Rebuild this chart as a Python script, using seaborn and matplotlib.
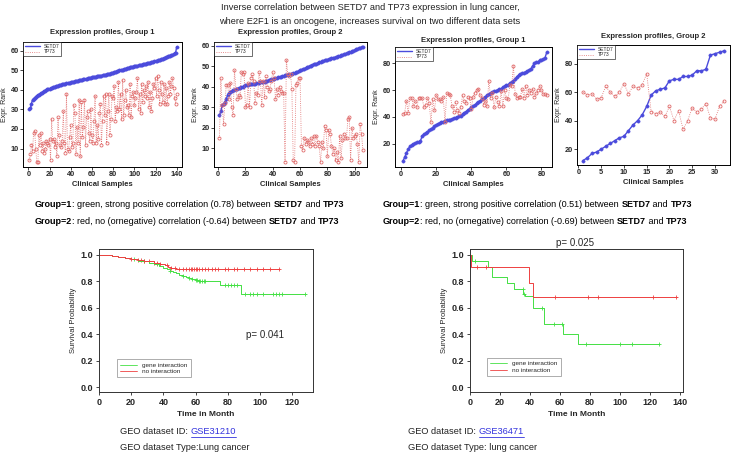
import numpy as np
import matplotlib
matplotlib.use("Agg")
import matplotlib.pyplot as plt
from matplotlib.lines import Line2D
import seaborn as sns

# ---- expression profiles ----
g1a_setd7 = [30, 30.5, 33, 35, 35.5, 36, 36.5, 37, 37.3, 37.6,
             38, 38.3, 38.6, 39, 39.3, 39.6, 40, 40.2, 40.4, 40.6,
             40.8, 41, 41.2, 41.4, 41.6, 41.8, 42, 42.1, 42.3, 42.5,
             42.6, 42.8, 43, 43.1, 43.2, 43.3, 43.5, 43.6, 43.7, 43.8,
             44, 44.1, 44.2, 44.3, 44.5, 44.6, 44.7, 44.8, 45, 45.1,
             45.2, 45.3, 45.5, 45.6, 45.7, 45.8, 46, 46.1, 46.2, 46.3,
             46.4, 46.5, 46.6, 46.7, 46.8, 47, 47.1, 47.2, 47.3, 47.4,
             47.5, 47.6, 47.8, 47.9, 48, 48.1, 48.3, 48.4, 48.6, 48.8,
             49, 49.2, 49.3, 49.5, 49.7, 49.9, 50, 50.2, 50.3, 50.5,
             50.7, 50.8, 51, 51.1, 51.3, 51.4, 51.5, 51.7, 51.8, 52,
             52.1, 52.2, 52.3, 52.5, 52.6, 52.7, 52.8, 53, 53.1, 53.2,
             53.4, 53.5, 53.6, 53.8, 53.9, 54, 54.2, 54.3, 54.5, 54.6,
             54.8, 55, 55.1, 55.3, 55.5, 55.7, 55.9, 56.1, 56.3, 56.5,
             56.7, 57, 57.2, 57.5, 57.8, 58, 58.3, 58.7, 59, 62]
g1a_tp73 = [4, 7, 12, 9, 18, 19, 10, 3, 3, 17,
            12, 18, 9, 13, 8, 10, 14, 13, 12, 15,
            4, 25, 14, 15, 11, 13, 6, 26, 17, 12,
            11, 14, 29, 13, 8, 38, 10, 9, 16, 22,
            11, 13, 32, 28, 7, 21, 13, 35, 6, 34,
            16, 21, 35, 12, 26, 29, 18, 14, 30, 17,
            13, 24, 37, 13, 22, 15, 28, 33, 12, 24,
            37, 27, 38, 13, 29, 38, 17, 25, 37, 36,
            42, 24, 31, 29, 44, 30, 38, 25, 45, 27,
            35, 40, 31, 32, 27, 43, 26, 37, 39, 32,
            36, 39, 46, 30, 38, 28, 43, 34, 40, 37,
            42, 36, 44, 31, 39, 29, 36, 43, 41, 46,
            37, 47, 40, 33, 44, 38, 34, 43, 33, 41,
            33, 37, 44, 38, 42, 46, 41, 36, 33, 38]

g2a_setd7 = [26, 28, 31, 31.5, 32.5, 34, 36, 37, 37.5, 38,
             38.3, 38.6, 38.9, 39.1, 39.3, 39.5, 39.7, 40, 40.3, 40.6,
             40.8, 41, 41.1, 41.2, 41.3, 41.4, 41.5, 41.6, 41.8, 42,
             42.1, 42.2, 42.3, 42.5, 42.7, 42.9, 43.1, 43.3, 43.5, 43.7,
             43.9, 44.1, 44.3, 44.5, 44.7, 44.9, 45.1, 45.3, 45.5, 45.7,
             45.8, 46, 46.2, 46.4, 46.6, 46.8, 47, 47.3, 47.6, 47.9,
             48.2, 48.5, 48.8, 49.1, 49.4, 49.7, 50, 50.3, 50.6, 50.9,
             51.1, 51.3, 51.5, 51.8, 52, 52.3, 52.5, 52.8, 53, 53.2,
             53.4, 53.6, 53.8, 54, 54.2, 54.4, 54.6, 54.9, 55.1, 55.3,
             55.5, 55.8, 56, 56.2, 56.5, 56.8, 57, 57.3, 57.6, 57.9,
             58.2, 58.5, 58.7, 59, 59.2, 59.5]
g2a_tp73 = [15, 44, 31, 22, 32, 41, 41, 34, 42, 30,
            26, 48, 39, 34, 36, 35, 47, 46, 47, 30,
            31, 42, 30, 44, 46, 43, 32, 37, 36, 47,
            43, 31, 43, 35, 45, 40, 38, 39, 43, 47,
            44, 34, 39, 36, 40, 38, 37, 37, 3, 53,
            46, 45, 46, 39, 4, 3, 41, 42, 44, 44,
            11, 9, 15, 12, 14, 13, 11, 15, 12, 16,
            11, 16, 13, 11, 3, 13, 10, 21, 19, 6,
            19, 17, 11, 7, 10, 4, 8, 3, 16, 5,
            14, 17, 15, 15, 24, 25, 4, 20, 15, 16,
            17, 12, 3, 22, 17, 9]

g1b_setd7 = [7, 10, 13, 16, 18, 19, 20, 20.5, 21, 21,
             22, 26, 27, 28, 28.5, 30, 31, 32, 33, 34,
             35, 35.5, 36, 36.5, 37, 37.5, 38, 38, 38.5, 39,
             39.5, 40, 40.5, 41, 42, 43, 44, 45, 46, 47,
             48, 49, 50, 51, 52, 53, 54, 55, 56, 57,
             58, 58.5, 59, 59.5, 60, 60.5, 61, 62, 63, 63.5,
             64, 65, 66, 67, 68, 70, 71, 72, 72.5, 73,
             73.5, 74, 75, 76, 78, 80, 80.5, 81, 82, 82.5,
             83, 84, 88]
g1b_tp73 = [42, 43, 52, 43, 54, 54, 48, 52, 47, 54,
            54, 54, 47, 49, 54, 50, 36, 53, 45, 56,
            53, 53, 52, 55, 36, 58, 57, 56, 48, 44,
            51, 45, 43, 47, 56, 52, 50, 55, 54, 46,
            55, 58, 60, 61, 56, 54, 49, 52, 48, 67,
            54, 58, 47, 55, 51, 48, 59, 48, 60, 54,
            53, 64, 63, 78, 57, 54, 55, 55, 61, 54,
            63, 56, 60, 58, 61, 55, 58, 60, 63, 60,
            57, 57, 56]

g2b_setd7 = [12, 14, 17, 18, 20, 22, 24, 26, 28, 29, 33, 37, 40, 44, 50, 58,
             61, 62, 63, 68, 69, 69, 71, 71, 72, 75, 75, 76, 86, 87, 88, 89]
g2b_tp73 = [60, 58, 59, 55, 56, 64, 60, 57, 60, 66, 59, 64, 63, 65, 73, 46,
            45, 46, 43, 50, 40, 47, 34, 40, 49, 46, 48, 52, 42, 41, 50, 54]

# ---- survival curves (step times / survival, censor times) ----
a_gene_t = [0, 8, 12, 16, 20, 24, 28, 31, 34, 37, 40, 42, 44, 46, 48, 50, 52,
            54, 56, 58, 60, 62, 75, 88, 128.5]
a_gene_s = [1.0, 0.99, 0.985, 0.975, 0.965, 0.955, 0.95, 0.94, 0.93, 0.915, 0.9,
            0.89, 0.88, 0.87, 0.86, 0.85, 0.84, 0.83, 0.825, 0.815, 0.81, 0.805,
            0.77, 0.705, 0.705]
a_gene_cens = [22, 28, 36, 44, 52, 56, 58, 60, 61, 62, 63, 64, 65, 66, 78, 80,
               82, 84, 86, 91, 94, 96, 98, 102, 108, 110, 112, 114, 128]
a_none_t = [0, 8, 12, 16, 20, 24, 28, 31, 34, 38, 41, 43, 45, 48, 112]
a_none_s = [1.0, 0.99, 0.985, 0.975, 0.965, 0.96, 0.955, 0.95, 0.94, 0.93, 0.92,
            0.91, 0.9, 0.89, 0.89]
a_none_cens = [20, 24, 26, 28, 31, 34, 36, 38, 42, 45, 47, 50, 52, 54, 56, 57,
               58, 59, 60, 61, 62, 64, 66, 68, 70, 72, 74, 78, 80, 84, 86, 90,
               94, 98, 102, 106, 112]

b_gene_t = [0, 1, 12, 14.5, 24.5, 29, 35.6, 36.7, 42, 49.5, 62, 72, 126]
b_gene_s = [1.0, 0.955, 0.91, 0.83, 0.785, 0.74, 0.705, 0.69, 0.60, 0.48, 0.405,
            0.33, 0.33]
b_gene_cens = [3.5, 35, 36.2, 48, 56, 61.5, 77, 100, 108, 126]
b_none_t = [0, 0.5, 39, 42, 138]
b_none_s = [1.0, 0.91, 0.79, 0.68, 0.68]
b_none_cens = [4.4, 10.4, 56.7, 78.4, 85, 121.8, 137.5]

BLUE = "#4b4bdc"
RED_EXP = "#e06a6a"
GREEN = "#44e044"
RED = "#ee4040"

sns.set_style("white")
plt.rcParams["font.family"] = ["Liberation Sans", "DejaVu Sans"]
plt.rcParams["axes.linewidth"] = 0.7

W, H = 733, 453
fig = plt.figure(figsize=(W / 100, H / 100), dpi=100)


def box(l, t, r, b):
    return [l / W, 1 - b / H, (r - l) / W, (b - t) / H]


def expr_panel(rect, setd7, tp73, title, title_y, xlim, ylim, xticks, yticks):
    ax = fig.add_axes(box(*rect))
    xs = np.arange(1, len(setd7) + 1)
    xr = np.arange(1, len(tp73) + 1)
    sns.lineplot(x=xs, y=setd7, ax=ax, color=BLUE, linewidth=1.0, marker="o",
                 markersize=2.4, markeredgewidth=0.3, markeredgecolor=BLUE,
                 estimator=None, sort=False, label="SETD7")
    sns.lineplot(x=xr, y=tp73, ax=ax, color=RED_EXP, linewidth=0.6, linestyle=":",
                 marker="o", markersize=2.2, markerfacecolor="none",
                 markeredgewidth=0.6, markeredgecolor=RED_EXP,
                 estimator=None, sort=False, label="TP73")
    ax.set_xlim(*xlim)
    ax.set_ylim(*ylim)
    ax.set_xticks(xticks)
    ax.set_yticks(yticks)
    ax.tick_params(labelsize=5.3, length=2, width=0.6, pad=1, direction="out",
                   left=True, bottom=True)
    for lab in ax.get_xticklabels() + ax.get_yticklabels():
        lab.set_fontweight("bold")
    ax.set_xlabel("Clinical Samples", fontsize=5.5, fontweight="bold", labelpad=2)
    ax.set_ylabel("Expr. Rank", fontsize=5, labelpad=2)
    for s in ax.spines.values():
        s.set_color("black")
        s.set_linewidth(0.7)
    leg = ax.legend(loc="upper left", fontsize=3.5, frameon=True, handlelength=3,
                    borderaxespad=0.1, borderpad=0.3, labelspacing=0.1,
                    fancybox=False, edgecolor="black")
    leg.get_frame().set_linewidth(0.5)
    for h in leg.legend_handles:
        h.set_marker("")
    cx = (rect[0] + rect[2]) / 2 / W
    fig.text(cx, 1 - title_y / H, title, ha="center", va="center", fontsize=5.5,
             fontweight="bold")
    return ax


expr_panel((23, 42, 182, 167), g1a_setd7, g1a_tp73, "Expression profiles, Group 1", 32,
           (-5, 145), (0.6, 64.4), range(0, 141, 20), range(10, 61, 10))
expr_panel((214, 42, 367, 167), g2a_setd7, g2a_tp73, "Expression profiles, Group 2", 33,
           (-3, 109), (0.8, 61.8), range(0, 101, 20), range(10, 61, 10))
expr_panel((395, 47, 552, 167), g1b_setd7, g1b_tp73, "Expression profiles, Group 1", 40,
           (-3.5, 86), (2.7, 92), range(0, 81, 20), range(20, 81, 20))
expr_panel((577, 45, 730, 165), g2b_setd7, g2b_tp73, "Expression profiles, Group 2", 36,
           (-0.3, 33.3), (8.9, 93.1), range(0, 31, 5), range(20, 81, 20))

# ---- header ----
fig.text(370 / W, 1 - 8 / H, "Inverse correlation between SETD7 and TP73 expression in lung cancer,",
         ha="center", va="center", fontsize=6.7, color="#222222")
fig.text(370 / W, 1 - 22 / H, "where E2F1 is an oncogene, increases survival on two different data sets",
         ha="center", va="center", fontsize=6.7, color="#222222")

renderer = fig.canvas.get_renderer()


def rich(x, y, parts, size):
    xf = x / W
    for text, weight, color, under in parts:
        t = fig.text(xf, 1 - y / H, text, ha="left", va="center", fontsize=size,
                     fontweight=weight, color=color)
        bb = t.get_window_extent(renderer)
        if under:
            fig.add_artist(Line2D([bb.x0 / W, bb.x1 / W],
                                  [(bb.y0 - 0.5) / H, (bb.y0 - 0.5) / H],
                                  color=color, linewidth=0.6))
        xf += bb.width / W


group_lines = [
    ("Group=1", ": green, strong positive correlation ({}) between "),
    ("Group=2", ": red, no (ornegative) correlation ({}) between "),
]
corr_left = ["0.78", "-0.64"]
corr_right = ["0.51", "-0.69"]
for i, (g, rest) in enumerate(group_lines):
    yy = 204 + 17 * i
    for x0, c in ((35, corr_left[i]), (383, corr_right[i])):
        rich(x0, yy, [(g, "bold", "black", False),
                      (rest.format(c), "normal", "black", False),
                      ("SETD7", "bold", "black", False),
                      (" and ", "normal", "black", False),
                      ("TP73", "bold", "black", False)], 6.5)


def step_at(times, surv, t):
    idx = np.searchsorted(times, t, side="right") - 1
    return np.asarray(surv)[idx]


def km_panel(rect, xlim, xticks, curves, pval, pxy, leg_anchor):
    ax = fig.add_axes(box(*rect))
    for t, s, cens, color in curves:
        sns.lineplot(x=t, y=s, ax=ax, color=color, linewidth=0.7,
                     drawstyle="steps-post", estimator=None, sort=False)
        sns.scatterplot(x=cens, y=step_at(t, s, cens), ax=ax, marker="+", s=9,
                        color=color, linewidth=0.6)
    ax.set_xlim(*xlim)
    ax.set_ylim(-0.035, 1.043)
    ax.set_xticks(xticks)
    ax.set_yticks([0.0, 0.2, 0.4, 0.6, 0.8, 1.0])
    ax.set_yticklabels(["0.0", "0.2", "0.4", "0.6", "0.8", "1.0"])
    ax.tick_params(labelsize=6.5, length=2.5, width=0.6, pad=1.5, direction="out",
                   left=True, bottom=True)
    for lab in ax.get_xticklabels() + ax.get_yticklabels():
        lab.set_fontweight("bold")
    ax.set_xlabel("Time in Month", fontsize=6, fontweight="bold", labelpad=3)
    ax.set_ylabel("Survival Probability", fontsize=5.5, labelpad=3)
    for s in ax.spines.values():
        s.set_color("#333333")
        s.set_linewidth(0.7)
    handles = [Line2D([], [], color=GREEN, linewidth=0.6),
               Line2D([], [], color=RED, linewidth=0.6)]
    leg = ax.legend(handles, ["gene interaction", "no interaction"], loc="lower left",
                    bbox_to_anchor=leg_anchor, fontsize=4.6, frameon=True,
                    fancybox=False, edgecolor="#888888", borderpad=0.5,
                    labelspacing=0.15, handlelength=2.6)
    leg.get_frame().set_linewidth(0.6)
    fig.text(pxy[0] / W, 1 - pxy[1] / H, pval, ha="center", va="center", fontsize=7)
    return ax


km_panel((99, 249, 313, 392), (0, 133), range(0, 121, 20),
         [(a_gene_t, a_gene_s, a_gene_cens, GREEN),
          (a_none_t, a_none_s, a_none_cens, RED)],
         "p= 0.041", (265, 335), (0.07, 0.08))
km_panel((470, 249, 683, 392), (0, 142), range(0, 141, 20),
         [(b_gene_t, b_gene_s, b_gene_cens, GREEN),
          (b_none_t, b_none_s, b_none_cens, RED)],
         "p= 0.025", (575, 243), (0.065, 0.09))

# ---- dataset captions ----
for x0, gse, kind in ((120, "GSE31210", "GEO dataset Type:Lung cancer"),
                      (408, "GSE36471", "GEO dataset Type: lung cancer")):
    rich(x0, 432, [("GEO dataset ID: ", "normal", "#222222", False),
                   (gse, "normal", "#3333dd", True)], 6.7)
    fig.text(x0 / W, 1 - 447 / H, kind, ha="left", va="center", fontsize=6.7,
             color="#222222")

fig.savefig("out.png", dpi=100)
